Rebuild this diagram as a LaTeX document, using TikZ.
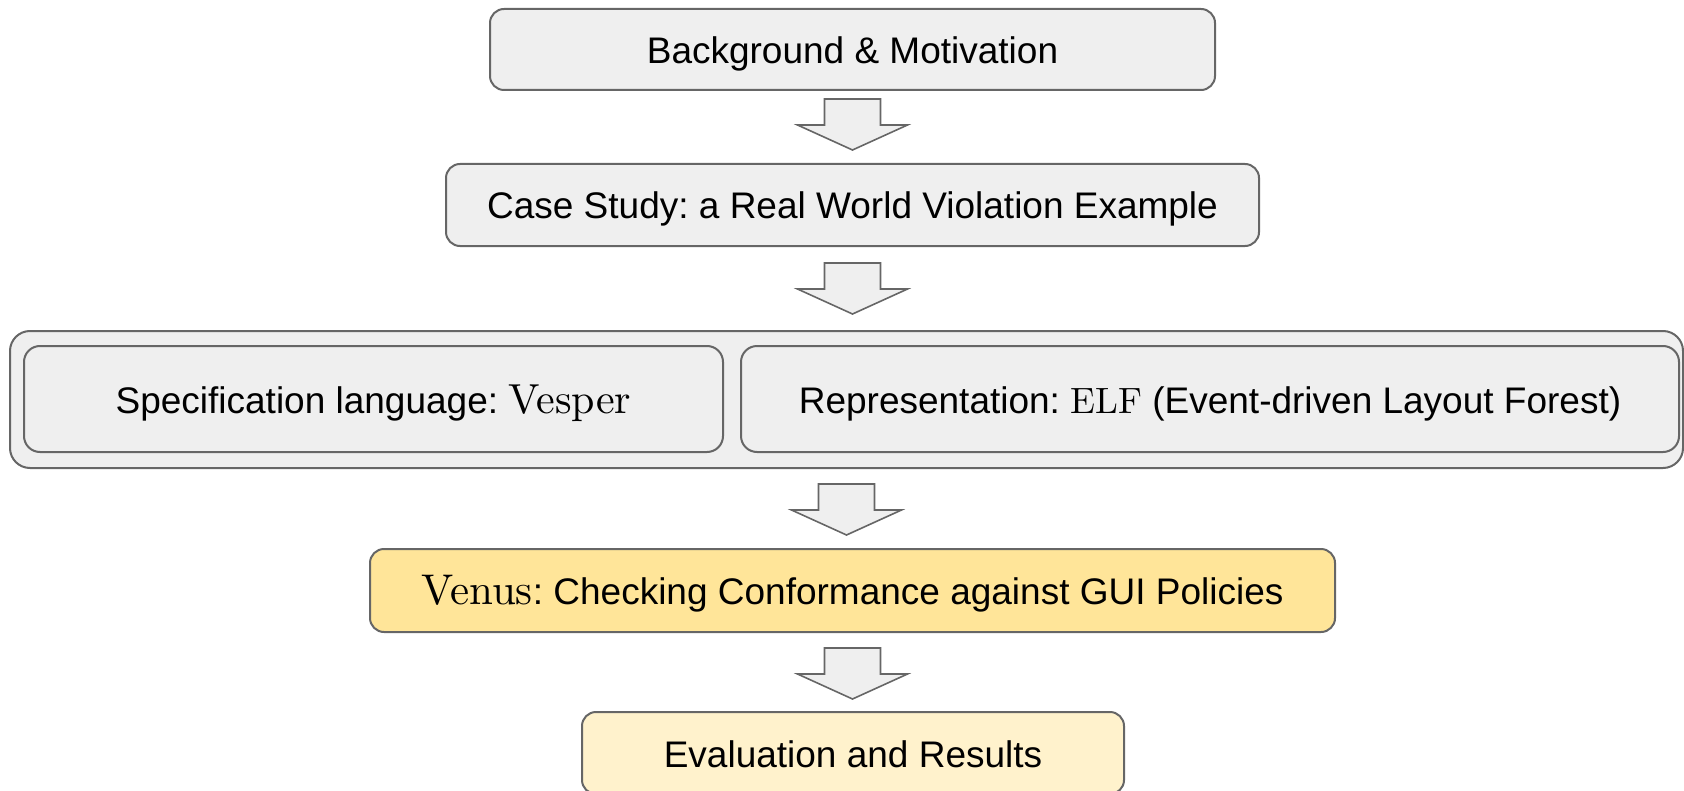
\documentclass[tikz,border=0pt]{standalone}
\usepackage{fontspec}
\usetikzlibrary{calc}
\newfontfamily\arialfont{Liberation Sans}
\newfontfamily\cmserif{lmroman10-regular}[Extension=.otf]
\definecolor{edgegray}{HTML}{666666}
\definecolor{panelgray}{HTML}{EFEFEF}
\definecolor{venusyellow}{HTML}{FFE599}
\definecolor{evalyellow}{HTML}{FFF2CC}
\newcommand\serifword[2][21]{{\cmserif\fontsize{#1}{22}\selectfont #2}}
% block arrow from the bottom of one node toward the top of the next
\newcommand\flowarrow[3][4pt]{%
  \draw[blockarrow] let \p1=(#2.south) in
    (\x1-14pt,\y1-#1) -- (\x1+14pt,\y1-#1) -- (\x1+14pt,\y1-#1-13pt)
    -- (\x1+27.5pt,\y1-#1-13pt) -- (\x1,\y1-#1-25.5pt) -- (\x1-27.5pt,\y1-#1-13pt)
    -- (\x1-14pt,\y1-#1-13pt) -- cycle;}
\tikzset{
  stagebox/.style={draw=edgegray, line width=1pt, rounded corners=7pt,
    fill=panelgray, inner sep=0pt, align=center, text height=14pt, text depth=0pt,
    font=\arialfont\frenchspacing\fontsize{18.5}{22}\selectfont, text=black},
  groupbox/.style={stagebox, rounded corners=10pt},
  blockarrow/.style={draw=edgegray, line width=0.8pt, fill=panelgray, line join=miter},
}
\begin{document}
\begin{tikzpicture}[x=0.5pt, y=-0.5pt]
\useasboundingbox (0,0) rectangle (1684,791);

\node[stagebox, minimum width=362.5pt, minimum height=40.5pt] (bg) at (852.5,49.5)
  {Background \& Motivation};
\node[stagebox, minimum width=406.5pt, minimum height=41pt] (case) at (852.5,205)
  {Case Study: a Real World Violation Example};

\node[groupbox, minimum width=836.5pt, minimum height=68.5pt] (group) at (846.5,399.5) {};
\node[stagebox, rounded corners=8pt, minimum width=349.5pt, minimum height=53pt] (spec) at (373.5,399)
  {Specification language: \serifword{Vesper}};
\node[stagebox, rounded corners=8pt, minimum width=469pt, minimum height=53pt] (repr) at (1210,399)
  {Representation: \serifword[18.3]{ELF} (Event-driven Layout Forest)};

\node[stagebox, fill=venusyellow, minimum width=482.5pt, minimum height=41.5pt] (venus) at (852.5,590.5)
  {\serifword[21.5]{Venus}: Checking Conformance against GUI Policies};
\node[stagebox, fill=evalyellow, minimum width=271pt, minimum height=41pt] (eval) at (853,753)
  {Evaluation and Results};

\flowarrow[4pt]{bg}{case}
\flowarrow[8pt]{case}{group}
\flowarrow[7.5pt]{group}{venus}
\flowarrow[7.5pt]{venus}{eval}
\end{tikzpicture}
\end{document}
